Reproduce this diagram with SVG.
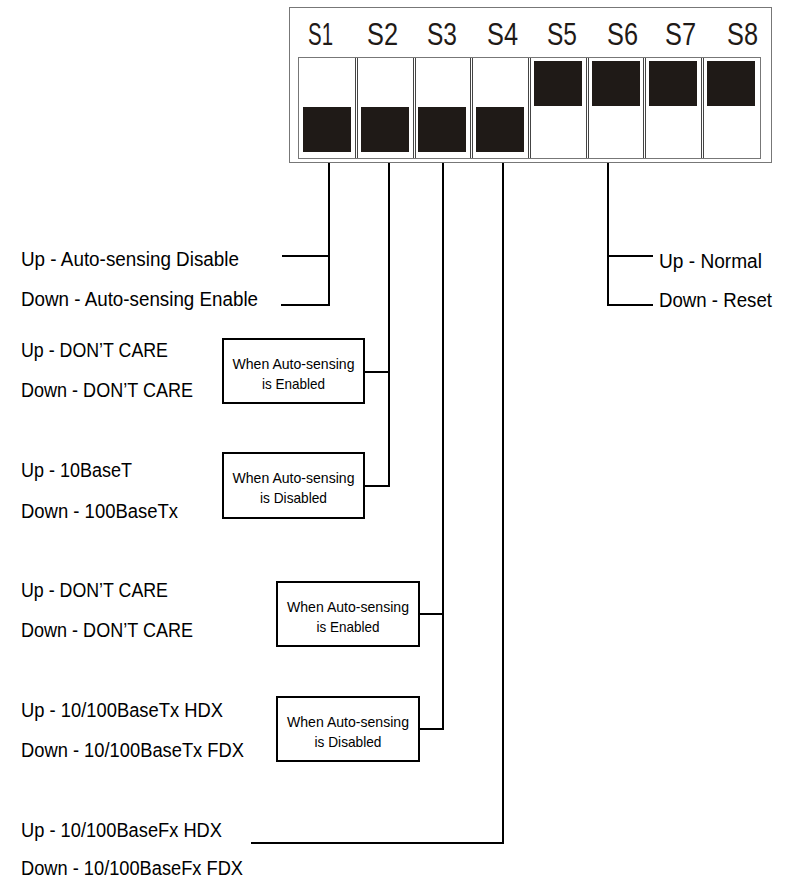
<svg xmlns="http://www.w3.org/2000/svg" width="789" height="879" viewBox="0 0 789 879">
<style>
.lbl{font-family:"Liberation Sans",Arial,sans-serif;font-size:20px;fill:#000}
.sw{font-family:"Liberation Sans",Arial,sans-serif;font-size:31px;fill:#1f1a17}
.bt{font-family:"Liberation Sans",Arial,sans-serif;font-size:15px;fill:#000;text-anchor:middle}
.box{fill:#fff;stroke:#000;stroke-width:2}
.wire{fill:none;stroke:#000;stroke-width:2}
.knob{fill:#1f1a17}
.div{stroke:#444;stroke-width:1}
</style>
<rect width="789" height="879" fill="#fff"/>
<g id="switch-block">
  <rect x="289.5" y="7.5" width="482" height="155" fill="#fff" stroke="#777" stroke-width="1"/>
  <rect x="298.5" y="57.5" width="462" height="101" fill="#fff" stroke="#777" stroke-width="1"/>
  <g class="div">
    <line x1="355.5" y1="58" x2="355.5" y2="158"/><line x1="357.5" y1="58" x2="357.5" y2="158"/>
    <line x1="413.5" y1="58" x2="413.5" y2="158"/><line x1="415.5" y1="58" x2="415.5" y2="158"/>
    <line x1="470.5" y1="58" x2="470.5" y2="158"/><line x1="472.5" y1="58" x2="472.5" y2="158"/>
    <line x1="528.5" y1="58" x2="528.5" y2="158"/><line x1="530.5" y1="58" x2="530.5" y2="158"/>
    <line x1="586.5" y1="58" x2="586.5" y2="158"/><line x1="588.5" y1="58" x2="588.5" y2="158"/>
    <line x1="643.5" y1="58" x2="643.5" y2="158"/><line x1="645.5" y1="58" x2="645.5" y2="158"/>
    <line x1="701.5" y1="58" x2="701.5" y2="158"/><line x1="703.5" y1="58" x2="703.5" y2="158"/>
  </g>
  <rect class="knob" x="303" y="107" width="48" height="45"/>
  <rect class="knob" x="361" y="107" width="48" height="45"/>
  <rect class="knob" x="418" y="107" width="48" height="45"/>
  <rect class="knob" x="476" y="107" width="48" height="45"/>
  <rect class="knob" x="534" y="61" width="48" height="45"/>
  <rect class="knob" x="592" y="61" width="48" height="45"/>
  <rect class="knob" x="649" y="61" width="48" height="45"/>
  <rect class="knob" x="707" y="61" width="48" height="45"/>
  <text class="sw" x="308" y="45" textLength="25" lengthAdjust="spacingAndGlyphs">S1</text>
  <text class="sw" x="367" y="45" textLength="31" lengthAdjust="spacingAndGlyphs">S2</text>
  <text class="sw" x="427" y="45" textLength="30" lengthAdjust="spacingAndGlyphs">S3</text>
  <text class="sw" x="487" y="45" textLength="31" lengthAdjust="spacingAndGlyphs">S4</text>
  <text class="sw" x="547" y="45" textLength="30" lengthAdjust="spacingAndGlyphs">S5</text>
  <text class="sw" x="607" y="45" textLength="31" lengthAdjust="spacingAndGlyphs">S6</text>
  <text class="sw" x="665" y="45" textLength="31" lengthAdjust="spacingAndGlyphs">S7</text>
  <text class="sw" x="727" y="45" textLength="31" lengthAdjust="spacingAndGlyphs">S8</text>
</g>
<g id="connectors">
  <path class="wire" d="M282,256 H329 M281,305 H329 V163"/>
  <path class="wire" d="M365,372 H389 M365,486 H389 V163"/>
  <path class="wire" d="M419,614 H443 M419,729 H443 V163"/>
  <path class="wire" d="M251,843 H503 V163"/>
  <path class="wire" d="M653,256 H608 M653,305 H608 V163"/>
</g>
<g id="s1-labels">
  <text class="lbl" x="21" y="266" textLength="218" lengthAdjust="spacingAndGlyphs">Up - Auto-sensing Disable</text>
  <text class="lbl" x="21" y="306" textLength="237" lengthAdjust="spacingAndGlyphs">Down - Auto-sensing Enable</text>
</g>
<g id="s2-labels">
  <text class="lbl" x="21" y="357" textLength="147" lengthAdjust="spacingAndGlyphs">Up - DON’T CARE</text>
  <text class="lbl" x="21" y="397" textLength="172" lengthAdjust="spacingAndGlyphs">Down - DON’T CARE</text>
  <text class="lbl" x="21" y="477" textLength="111" lengthAdjust="spacingAndGlyphs">Up - 10BaseT</text>
  <text class="lbl" x="21" y="518" textLength="157" lengthAdjust="spacingAndGlyphs">Down - 100BaseTx</text>
</g>
<g id="s2-enabled">
  <rect class="box" x="223" y="339" width="141" height="64"/>
  <text class="bt" x="293.5" y="369" textLength="122" lengthAdjust="spacingAndGlyphs">When Auto-sensing</text>
  <text class="bt" x="293.5" y="389" textLength="63" lengthAdjust="spacingAndGlyphs">is Enabled</text>
</g>
<g id="s2-disabled">
  <rect class="box" x="223" y="453" width="141" height="65"/>
  <text class="bt" x="293.5" y="483" textLength="122" lengthAdjust="spacingAndGlyphs">When Auto-sensing</text>
  <text class="bt" x="293.5" y="503" textLength="67" lengthAdjust="spacingAndGlyphs">is Disabled</text>
</g>
<g id="s3-labels">
  <text class="lbl" x="21" y="597" textLength="147" lengthAdjust="spacingAndGlyphs">Up - DON’T CARE</text>
  <text class="lbl" x="21" y="637" textLength="172" lengthAdjust="spacingAndGlyphs">Down - DON’T CARE</text>
  <text class="lbl" x="21" y="717" textLength="202" lengthAdjust="spacingAndGlyphs">Up - 10/100BaseTx HDX</text>
  <text class="lbl" x="21" y="757" textLength="223" lengthAdjust="spacingAndGlyphs">Down - 10/100BaseTx FDX</text>
</g>
<g id="s3-enabled">
  <rect class="box" x="277" y="582" width="142" height="64"/>
  <text class="bt" x="348" y="612" textLength="122" lengthAdjust="spacingAndGlyphs">When Auto-sensing</text>
  <text class="bt" x="348" y="632" textLength="63" lengthAdjust="spacingAndGlyphs">is Enabled</text>
</g>
<g id="s3-disabled">
  <rect class="box" x="277" y="697" width="142" height="64"/>
  <text class="bt" x="348" y="727" textLength="122" lengthAdjust="spacingAndGlyphs">When Auto-sensing</text>
  <text class="bt" x="348" y="747" textLength="67" lengthAdjust="spacingAndGlyphs">is Disabled</text>
</g>
<g id="s4-labels">
  <text class="lbl" x="21" y="837" textLength="201" lengthAdjust="spacingAndGlyphs">Up - 10/100BaseFx HDX</text>
  <text class="lbl" x="21" y="875" textLength="222" lengthAdjust="spacingAndGlyphs">Down - 10/100BaseFx FDX</text>
</g>
<g id="s6-labels">
  <text class="lbl" x="659" y="268" textLength="103" lengthAdjust="spacingAndGlyphs">Up - Normal</text>
  <text class="lbl" x="659" y="307" textLength="113" lengthAdjust="spacingAndGlyphs">Down - Reset</text>
</g>
</svg>
